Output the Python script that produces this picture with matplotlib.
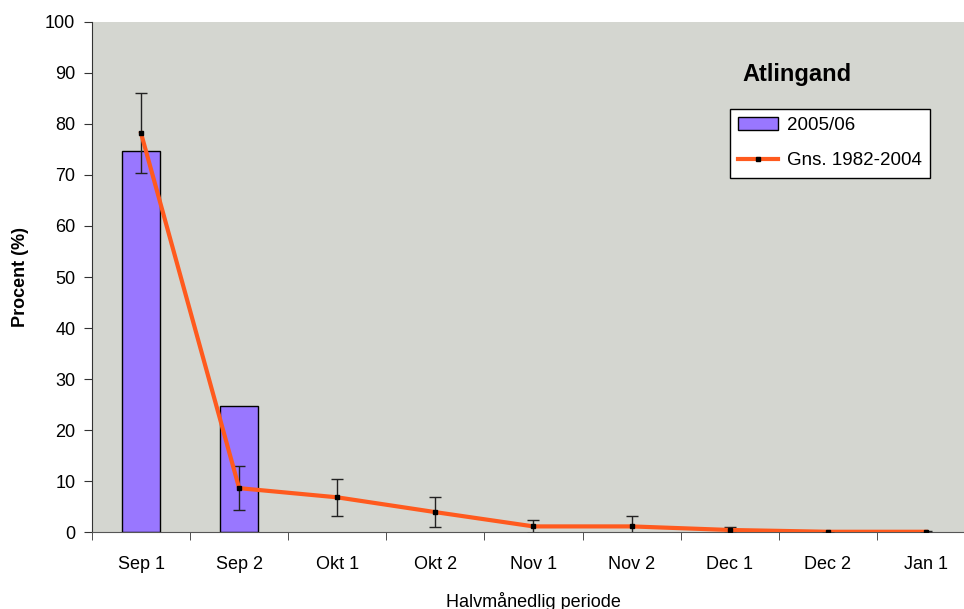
import numpy as np
import matplotlib.pyplot as plt

plt.rcParams['font.family'] = ['Liberation Sans', 'DejaVu Sans']

# data
periods = ['Sep 1', 'Sep 2', 'Okt 1', 'Okt 2', 'Nov 1', 'Nov 2', 'Dec 1', 'Dec 2', 'Jan 1']
season  = [74.8, 24.7, 0, 0, 0, 0, 0, 0, 0]          # 2005/06
mean    = [78.2, 8.6, 6.8, 3.9, 1.1, 1.1, 0.4, 0.05, 0.05]   # Gns. 1982-2004
err     = [7.9, 4.3, 3.6, 3.0, 1.2, 2.1, 0.55, 0.15, 0.15]

x = np.arange(len(periods))

fig = plt.figure(figsize=(9.64, 6.09), dpi=100)
ax = fig.add_axes([0.0954, 0.1264, 1.0114 - 0.0954, 0.9639 - 0.1264])
ax.set_facecolor('#D4D6D0')

bars = ax.bar(x[:2], season[:2], width=0.39, color='#9977FF', edgecolor='black',
              linewidth=1, label='2005/06', zorder=2)
ax.errorbar(x, mean, yerr=err, fmt='none', ecolor='#222222', elinewidth=1,
            capsize=4.5, capthick=1, zorder=3)
line, = ax.plot(x, mean, color='#FF5A1E', linewidth=3, marker='s', markersize=3,
                markerfacecolor='black', markeredgecolor='black',
                label='Gns. 1982-2004', zorder=4)

ax.set_xlim(-0.5, len(periods) - 0.5)
ax.set_ylim(0, 100)
ax.set_yticks(np.arange(0, 101, 10))
ax.set_xticks(x)
ax.set_xticklabels(periods, fontsize=13)
ax.set_xticks(np.arange(-0.5, len(periods), 1), minor=True)
ax.tick_params(axis='x', which='major', length=0, pad=17)
ax.tick_params(axis='x', which='minor', length=6, color='#333333', direction='out')
ax.tick_params(axis='y', labelsize=13, length=6, pad=6, direction='out', color='#333333')

for s in ['top', 'right']:
    ax.spines[s].set_visible(False)
ax.spines['left'].set_color('#333333')
ax.spines['bottom'].set_color('#555555')

ax.set_ylabel('Procent (%)', fontsize=13, fontweight='bold')
ax.yaxis.set_label_coords(-0.071, 0.5)
ax.set_xlabel('Halvmånedlig periode', fontsize=13)
ax.xaxis.set_label_coords(0.5, -0.117)

ax.text(0.798, 0.898, 'Atlingand', transform=ax.transAxes, fontsize=17,
        fontweight='bold', ha='center', va='center')

leg = ax.legend([bars, line], ['2005/06', 'Gns. 1982-2004'], loc='upper left',
                bbox_to_anchor=(0.7225, 0.830), borderaxespad=0, fontsize=13.5,
                frameon=True, fancybox=False, framealpha=1, edgecolor='black',
                borderpad=0.45, labelspacing=0.95, handlelength=2.1, handletextpad=0.5)
leg.get_frame().set_linewidth(1)

fig.savefig('out.png', dpi=100)
